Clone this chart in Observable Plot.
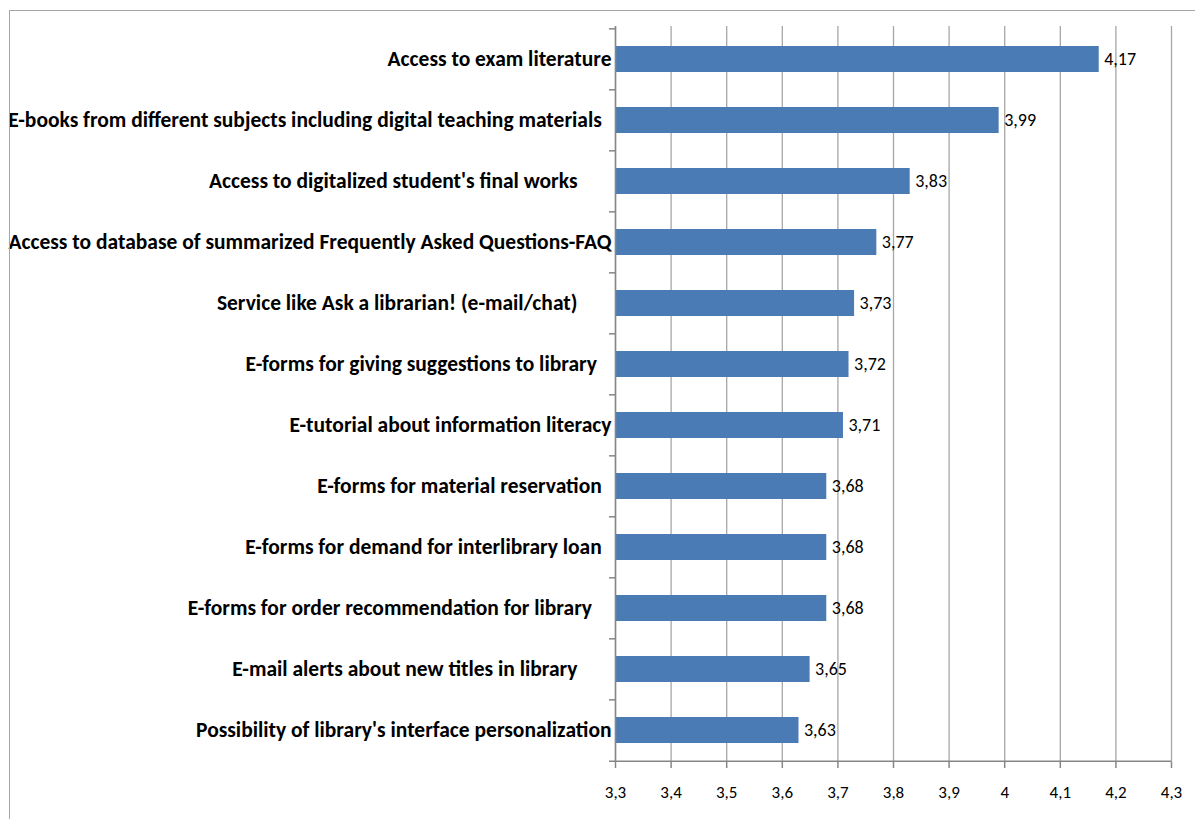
<!DOCTYPE html>
<html>
<head>
<meta charset="utf-8">
<script src="https://cdn.jsdelivr.net/npm/d3@7"></script>
<script src="https://cdn.jsdelivr.net/npm/@observablehq/plot@0.6"></script>
<style>
  html, body { margin: 0; padding: 0; background: #fff; }
  #wrap { position: relative; width: 1195px; height: 819px; overflow: hidden; }
  #border { position: absolute; left: 9px; top: 10px; width: 2000px; height: 2000px; border-left: 1px solid #a6a6a6; border-top: 1px solid #a6a6a6; pointer-events: none; }
  #chart { position: absolute; left: 0; top: 0; }
</style>
</head>
<body>
<div id="wrap"><div id="chart"></div><div id="border"></div></div>
<script>
const categories = [
  "Access to exam literature",
  "E-books from different subjects including digital teaching materials\u00a0\u00a0",
  "Access to digitalized student's final works\u00a0\u00a0\u00a0\u00a0\u00a0\u00a0\u00a0",
  "Access to database of summarized Frequently Asked Questions-FAQ",
  "Service like Ask a librarian! (e-mail/chat)\u00a0\u00a0\u00a0\u00a0\u00a0\u00a0\u00a0",
  "E-forms for giving suggestions to library\u00a0\u00a0\u00a0",
  "E-tutorial about information literacy",
  "E-forms for material reservation\u00a0\u00a0",
  "E-forms for demand for interlibrary loan\u00a0\u00a0",
  "E-forms for order recommendation for library\u00a0\u00a0\u00a0\u00a0",
  "E-mail alerts about new titles in library\u00a0\u00a0\u00a0\u00a0\u00a0\u00a0\u00a0",
  "Possibility of library's interface personalization"
];
const values = [4.17, 3.99, 3.83, 3.77, 3.73, 3.72, 3.71, 3.68, 3.68, 3.68, 3.65, 3.63];
const xTicks = [3.3, 3.4, 3.5, 3.6, 3.7, 3.8, 3.9, 4.0, 4.1, 4.2, 4.3];

const data = categories.map((label, i) => ({label, value: values[i]}));
const xMin = xTicks[0], xMax = xTicks[xTicks.length - 1];
const comma = v => String(+v.toFixed(2)).replace(".", ",");

const W = 1195, H = 819, mL = 615, mR = 24, mT = 26, mB = 57;
const step = (H - mT - mB) / categories.length;
const pxPerUnit = (W - mL - mR) / (xMax - xMin);
const tickLen = 6;
const font = "Calibri, Carlito, Lato, sans-serif";

const chart = Plot.plot({
  width: W, height: H,
  marginLeft: mL, marginRight: mR, marginTop: mT, marginBottom: mB,
  style: {fontFamily: font, background: "transparent"},
  x: {domain: [xMin, xMax], label: null},
  y: {domain: categories, paddingInner: 0.58, paddingOuter: 0.29, axis: null},
  marks: [
    Plot.gridX(xTicks, {stroke: "#a6a6a6", strokeOpacity: 1, strokeWidth: 1.3}),
    Plot.barX(data, {y: "label", x1: () => xMin, x2: "value", fill: "#4a7bb5"}),
    Plot.ruleX([xMin], {stroke: "#868686", strokeWidth: 1.5}),
    Plot.ruleY(categories, {y: d => d, x1: () => xMin - tickLen / pxPerUnit, x2: () => xMin, dy: -step / 2, stroke: "#868686", strokeWidth: 1.5}),
    Plot.ruleY([categories[categories.length - 1]], {y: d => d, x1: () => xMin - tickLen / pxPerUnit, x2: () => xMax, dy: step / 2, stroke: "#868686", strokeWidth: 1.5}),
    Plot.axisX({ticks: xTicks, tickFormat: () => "", tickSize: tickLen, stroke: "#868686", strokeWidth: 1.5, label: null}),
    Plot.text(xTicks, {x: d => d, text: d => comma(d), frameAnchor: "bottom", dy: 30, lineAnchor: "middle", fontSize: 17, fill: "#000"}),
    Plot.text(data, {y: "label", x: () => xMin, text: "label", textAnchor: "end", dx: -4, fontSize: 21.5, fontWeight: "bold", fill: "#000"}),
    Plot.text(data, {y: "label", x: "value", text: d => comma(d.value), textAnchor: "start", dx: 5, fontSize: 18, fill: "#000"})
  ]
});
document.getElementById("chart").appendChild(chart);
</script>
</body>
</html>
